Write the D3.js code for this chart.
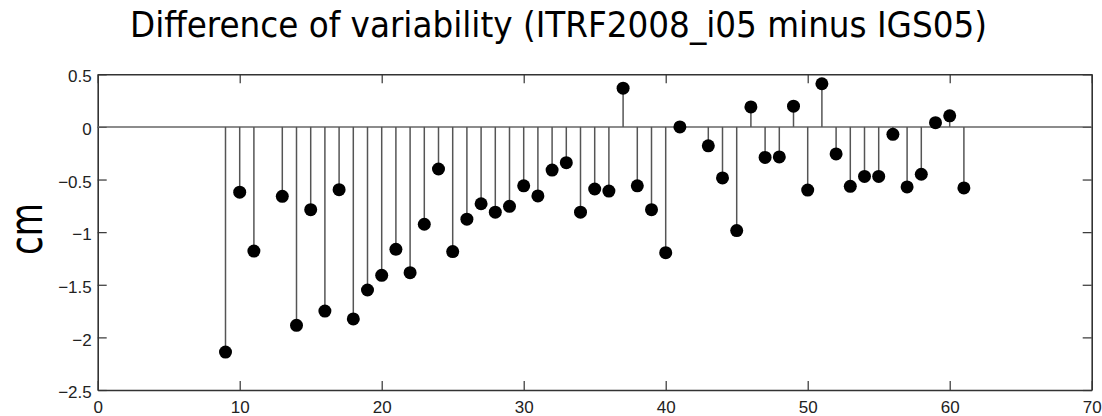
<!DOCTYPE html>
<html>
<head>
<meta charset="utf-8">
<script src="https://cdn.jsdelivr.net/npm/d3@7"></script>
<style>
  body { margin: 0; background: #fff; }
  svg { display: block; }
</style>
</head>
<body>
<div id="chart"></div>
<script>
// station index and difference of variability (cm)
var stations = [9, 10, 11, 13, 14, 15, 16, 17, 18, 19, 20, 21, 22, 23, 24, 25, 26, 27, 28, 29,
                30, 31, 32, 33, 34, 35, 36, 37, 38, 39, 40, 41, 43, 44, 45, 46, 47, 48, 49, 50,
                51, 52, 53, 54, 55, 56, 57, 58, 59, 60, 61];
var diffs = [-2.14, -0.62, -1.18, -0.66, -1.885, -0.786, -1.75, -0.596, -1.825, -1.55, -1.41, -1.163,
             -1.385, -0.925, -0.40, -1.185, -0.877, -0.73, -0.81, -0.755, -0.56, -0.656, -0.41, -0.34,
             -0.81, -0.59, -0.61, 0.368, -0.56, -0.786, -1.195, 0.0, -0.18, -0.485, -0.985, 0.19,
             -0.29, -0.285, 0.197, -0.60, 0.41, -0.257, -0.565, -0.47, -0.47, -0.07, -0.57, -0.45,
             0.04, 0.105, -0.58];
var xTicks = [0, 10, 20, 30, 40, 50, 60, 70];
var yTicks = [0.5, 0, -0.5, -1, -1.5, -2, -2.5];

var W = 1102, H = 416;
var margin = {left: 97.7, right: 10.3, top: 74.3, bottom: 26};
var iw = W - margin.left - margin.right, ih = H - margin.top - margin.bottom;

var svg = d3.select("#chart").append("svg")
    .attr("width", W).attr("height", H);

var g = svg.append("g")
    .attr("transform", "translate(" + margin.left + "," + margin.top + ")");

var x = d3.scaleLinear().domain([0, 70]).range([0, iw]);
var y = d3.scaleLinear().domain([-2.5, 0.5]).range([ih, 0]);

var fmt = function(d){ return d === 0 ? "0" : d3.format("")(d).replace("-", "\u2212"); };
var tickLen = 9;

// axes (ticks pointing inward)
var axB = g.append("g").attr("transform", "translate(0," + ih + ")")
  .call(d3.axisBottom(x).tickValues(xTicks).tickSizeInner(-tickLen).tickSizeOuter(0).tickPadding(12).tickFormat(fmt));
var axT = g.append("g")
  .call(d3.axisTop(x).tickValues(xTicks).tickSizeInner(-tickLen).tickSizeOuter(0).tickFormat(""));
var axL = g.append("g")
  .call(d3.axisLeft(y).tickValues(yTicks).tickSizeInner(-tickLen).tickSizeOuter(0).tickPadding(6).tickFormat(fmt));
var axR = g.append("g").attr("transform", "translate(" + iw + ",0)")
  .call(d3.axisRight(y).tickValues(yTicks).tickSizeInner(-tickLen).tickSizeOuter(0).tickFormat(""));

[axB, axT, axL, axR].forEach(function(a){
  a.select(".domain").attr("stroke", "#333").attr("stroke-width", 1.6);
  a.selectAll(".tick line").attr("stroke", "#333").attr("stroke-width", 1.2);
  a.selectAll(".tick text")
    .attr("fill", "#222")
    .style("font-family", "'Liberation Sans', Arial, sans-serif")
    .style("font-size", "17px");
});
axL.selectAll(".tick text").attr("dy", "0.45em");
axB.selectAll(".tick text").attr("dy", "0.62em");

// zero baseline
g.append("line")
  .attr("x1", x(0)).attr("x2", x(70))
  .attr("y1", y(0)).attr("y2", y(0))
  .attr("stroke", "#666").attr("stroke-width", 1.5);

var data = stations.map(function(s, i){ return {s: s, v: diffs[i]}; });

// stems
g.selectAll(".stem").data(data).enter().append("line")
  .attr("class", "stem")
  .attr("x1", function(d){ return x(d.s); })
  .attr("x2", function(d){ return x(d.s); })
  .attr("y1", y(0))
  .attr("y2", function(d){ return y(d.v); })
  .attr("stroke", "#555").attr("stroke-width", 1.5);

// markers
g.selectAll(".dot").data(data).enter().append("circle")
  .attr("class", "dot")
  .attr("cx", function(d){ return x(d.s); })
  .attr("cy", function(d){ return y(d.v); })
  .attr("r", 6.5)
  .attr("fill", "#000");

// title
svg.append("text")
  .attr("x", 558.5).attr("y", 37)
  .attr("text-anchor", "middle")
  .attr("textLength", 857).attr("lengthAdjust", "spacingAndGlyphs")
  .style("font-family", "'DejaVu Sans Condensed', 'DejaVu Sans', sans-serif")
  .style("font-size", "36px")
  .attr("fill", "#000")
  .text("Difference of variability (ITRF2008_i05 minus IGS05)");

// y label
svg.append("text")
  .attr("transform", "translate(42,229) rotate(-90)")
  .attr("text-anchor", "middle")
  .attr("textLength", 52).attr("lengthAdjust", "spacingAndGlyphs")
  .style("font-family", "'DejaVu Sans', sans-serif")
  .style("font-size", "46px")
  .attr("fill", "#000")
  .text("cm");
</script>
</body>
</html>
